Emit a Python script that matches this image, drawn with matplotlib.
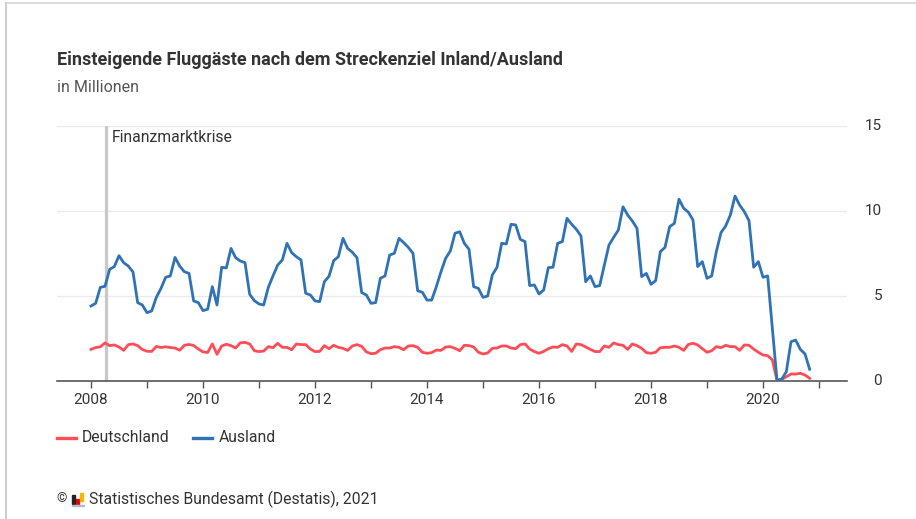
import matplotlib
matplotlib.use("Agg")
import matplotlib.pyplot as plt
from matplotlib.patches import Rectangle
from matplotlib.lines import Line2D
from matplotlib.transforms import blended_transform_factory
import numpy as np

# ---------------- data ----------------
start_year = 2008
ausland = [
    4.41, 4.57, 5.51, 5.57, 6.57, 6.73, 7.37, 6.96, 6.76, 6.41, 4.61, 4.47,
    4.02, 4.12, 4.92, 5.45, 6.10, 6.18, 7.27, 6.76, 6.43, 6.33, 4.71, 4.61,
    4.14, 4.22, 5.55, 4.47, 6.69, 6.65, 7.80, 7.25, 7.06, 6.96, 5.10, 4.73,
    4.53, 4.47, 5.51, 6.18, 6.82, 7.12, 8.10, 7.55, 7.31, 7.12, 5.16, 5.06,
    4.71, 4.67, 5.84, 6.16, 7.08, 7.31, 8.39, 7.80, 7.57, 7.25, 5.20, 5.06,
    4.57, 4.61, 6.04, 6.18, 7.41, 7.51, 8.39, 8.14, 7.86, 7.51, 5.31, 5.22,
    4.76, 4.76, 5.55, 6.43, 7.22, 7.65, 8.69, 8.78, 8.10, 7.75, 5.55, 5.45,
    4.92, 5.00, 6.24, 6.69, 8.10, 8.06, 9.22, 9.18, 8.33, 8.20, 5.61, 5.65,
    5.12, 5.35, 6.67, 6.69, 8.10, 8.20, 9.57, 9.22, 8.92, 8.53, 5.84, 6.18,
    5.55, 5.61, 6.82, 8.00, 8.45, 8.88, 10.25, 9.76, 9.41, 8.98, 6.14, 6.33,
    5.69, 5.90, 7.61, 7.86, 9.08, 9.27, 10.69, 10.16, 9.93, 9.47, 6.73, 7.02,
    6.04, 6.18, 7.61, 8.73, 9.12, 9.76, 10.88, 10.35, 9.96, 9.43, 6.69, 7.02,
    6.10, 6.18, 3.10, 0.05, 0.10, 0.55, 2.31, 2.41, 1.86, 1.59, 0.69,
]
deutschland = [
    1.86, 1.97, 2.01, 2.24, 2.08, 2.12, 2.00, 1.80, 2.14, 2.18, 2.08, 1.85,
    1.75, 1.74, 2.03, 1.97, 2.01, 1.97, 1.94, 1.81, 2.10, 2.15, 2.09, 1.88,
    1.71, 1.68, 2.18, 1.57, 2.06, 2.16, 2.08, 1.94, 2.25, 2.27, 2.18, 1.78,
    1.73, 1.76, 2.02, 1.96, 2.22, 1.98, 1.98, 1.84, 2.18, 2.14, 2.14, 1.88,
    1.73, 1.74, 2.08, 1.90, 2.10, 1.98, 1.92, 1.80, 2.06, 2.14, 2.04, 1.71,
    1.61, 1.63, 1.84, 1.94, 1.94, 2.02, 1.98, 1.84, 2.06, 2.08, 1.98, 1.69,
    1.63, 1.67, 1.82, 1.80, 2.00, 2.02, 1.92, 1.78, 2.10, 2.08, 2.00, 1.69,
    1.59, 1.65, 1.92, 1.94, 2.06, 2.06, 1.94, 1.90, 2.14, 2.18, 1.88, 1.73,
    1.63, 1.74, 1.90, 2.00, 1.98, 2.14, 2.06, 1.74, 2.18, 2.14, 2.00, 1.86,
    1.73, 1.73, 2.06, 1.98, 2.24, 2.14, 2.10, 1.86, 2.18, 2.08, 1.92, 1.67,
    1.63, 1.69, 1.96, 1.98, 1.98, 2.06, 1.98, 1.80, 2.15, 2.22, 2.12, 1.90,
    1.69, 1.78, 2.02, 1.96, 2.10, 2.02, 2.02, 1.80, 2.12, 2.10, 1.88, 1.69,
    1.53, 1.49, 1.24, 0.02, 0.10, 0.25, 0.41, 0.41, 0.45, 0.35, 0.16,
]
series_names = ["Deutschland", "Ausland"]
event_label = "Finanzmarktkrise"
event_date = 2008 + 3.25 / 12
x_tick_years = list(range(2008, 2022))
x_label_years = [2008, 2010, 2012, 2014, 2016, 2018, 2020]
y_ticks = [0, 5, 10, 15]

title = "Einsteigende Fluggäste nach dem Streckenziel Inland/Ausland"
subtitle = "in Millionen"
source = "Statistisches Bundesamt (Destatis), 2021"

# ---------------- style ----------------
W, H = 916, 519
RED = "#ff4d57"
BLUE = "#2f72b6"
TXT = "#333333"
GREY = "#555555"
FONT = "Roboto"
plt.rcParams["font.family"] = [FONT, "DejaVu Sans"]

def fx(x):
    return x / W

def fy(y):
    return 1 - y / H

fig = plt.figure(figsize=(W / 100, H / 100), dpi=100)
fig.patch.set_facecolor("white")

# card border (left and top)
fig.add_artist(Line2D([fx(6), fx(6)], [0, fy(3)], color="#cfcfcf", lw=1.5,
                      transform=fig.transFigure))
fig.add_artist(Line2D([fx(6), 1], [fy(3), fy(3)], color="#d5d5d5", lw=1.2,
                      transform=fig.transFigure))

ax_l, ax_r, ax_t, ax_b = 57, 847, 126, 381
ax = fig.add_axes([fx(ax_l), fy(ax_b), (ax_r - ax_l) / W, (ax_b - ax_t) / H])

n = len(ausland)
dates = start_year + np.arange(n) / 12.0
ax.plot(dates, deutschland, color=RED, lw=2.0, solid_joinstyle="round", zorder=3)
ax.plot(dates, ausland, color=BLUE, lw=2.0, solid_joinstyle="round", zorder=4)

ax.set_xlim(2008 - 34 / 56, 2008 + 756 / 56)
ax.set_ylim(0, 15)

# grid
for v in y_ticks[1:]:
    ax.axhline(v, color="#ebebeb", lw=1.0, zorder=1)

# event line
ax.axvline(event_date, color="#c8c8c8", lw=2.3, zorder=2)
ax.text(event_date + 0.1, 14.3, event_label, color=TXT, fontsize=11.3,
        va="center", ha="left")

for s in ["top", "right", "left"]:
    ax.spines[s].set_visible(False)
ax.spines["bottom"].set_color("#555555")
ax.spines["bottom"].set_linewidth(1.2)

ax.set_xticks(x_tick_years)
ax.set_xticklabels([str(y) if y in x_label_years else "" for y in x_tick_years])
ax.tick_params(axis="x", length=5, width=1, color="#555555", labelcolor=TXT,
               labelsize=11, pad=4)

# y labels on the right, right-aligned
ax.set_yticks([])
ytrans = blended_transform_factory(fig.transFigure, ax.transData)
for v in y_ticks:
    ax.text(fx(882), v, str(v), transform=ytrans, ha="right", va="center",
            fontsize=11, color=TXT, clip_on=False)

# title & subtitle
fig.text(fx(57), fy(60), title, fontsize=13, fontweight="bold", color=TXT,
         va="center", ha="left")
fig.text(fx(57), fy(88), subtitle, fontsize=11.5, color=GREY, va="center", ha="left")

# legend
ly = fy(438)
fig.add_artist(Line2D([fx(57), fx(76)], [ly, ly], color=RED, lw=2.4,
                      transform=fig.transFigure))
fig.text(fx(82), ly, series_names[0], fontsize=11.3, color=TXT, va="center", ha="left")
fig.add_artist(Line2D([fx(193), fx(212)], [ly, ly], color=BLUE, lw=2.4,
                      transform=fig.transFigure))
fig.text(fx(219), ly, series_names[1], fontsize=11.3, color=TXT, va="center", ha="left")

# footer
fy_src = fy(499)
fig.text(fx(56), fy_src, "©", fontsize=9.5, color=TXT, va="center", ha="left")
for (x0, y0, w, h, c) in [(72, 495, 2.5, 9, "#222222"), (76, 499, 2.5, 5, "#e3000f"),
                          (80, 493, 2.5, 8, "#f7b500")]:
    fig.add_artist(Rectangle((fx(x0), fy(y0 + h)), w / W, h / H, color=c,
                             transform=fig.transFigure))
fig.add_artist(Rectangle((fx(71.5), fy(506)), 12 / W, 1.5 / H, color="#bbbbbb",
                         transform=fig.transFigure))
fig.text(fx(89), fy_src, source, fontsize=11.3, color=TXT, va="center", ha="left")

fig.savefig("out.png", dpi=100, facecolor="white")
